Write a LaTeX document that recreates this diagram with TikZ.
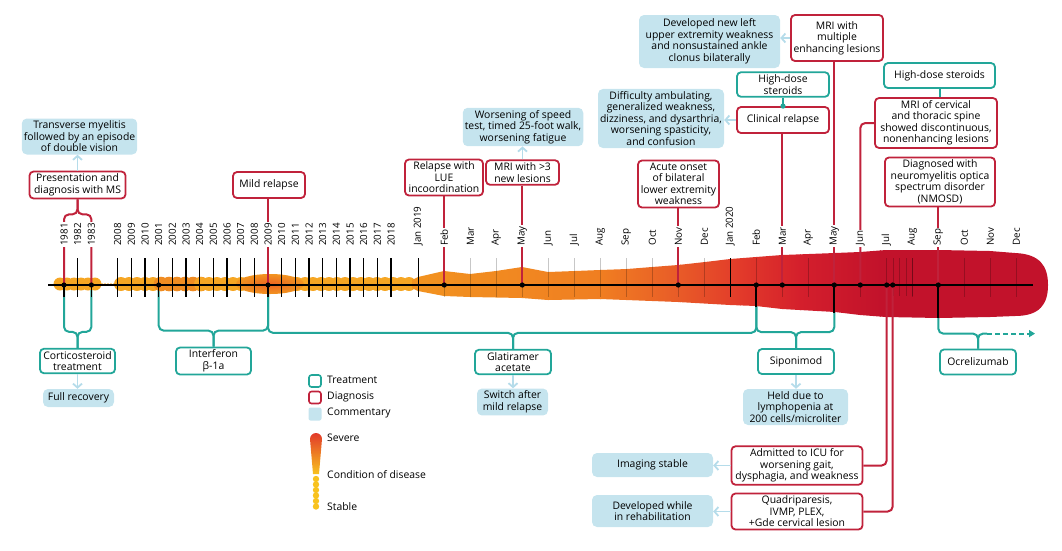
\documentclass[tikz,border=0pt]{standalone}
\usepackage{fontspec}
\setmainfont{Open Sans}
\usetikzlibrary{arrows.meta,calc}
\definecolor{dred}{HTML}{C0223B}
\definecolor{tealc}{HTML}{22A699}
\definecolor{cblue}{HTML}{C5E4EE}
\definecolor{arrblue}{HTML}{B5DCEA}
\definecolor{sevY}{HTML}{F6A623}
\definecolor{sevO}{HTML}{F08C22}
\definecolor{sevA}{HTML}{F29420}
\definecolor{sevB}{HTML}{F07E21}
\definecolor{sevC}{HTML}{E85A28}
\definecolor{sevD}{HTML}{E23A2A}
\definecolor{sevE}{HTML}{D41F2C}
\definecolor{sevF}{HTML}{C2122B}
\definecolor{sevL}{HTML}{F8C21E}
\definecolor{blobC}{HTML}{EC6422}
\tikzset{
  txt/.style={font=\fontsize{10.4}{11.5}\selectfont, align=center},
  diag/.style={txt, draw=dred, line width=1.8pt, rounded corners=4pt, fill=white, inner xsep=2pt, inner ysep=2.5pt},
  treat/.style={txt, draw=tealc, line width=1.8pt, rounded corners=4pt, fill=white, inner xsep=2pt, inner ysep=2.5pt},
  comm/.style={txt, fill=cblue, rounded corners=5pt, inner xsep=2pt, inner ysep=2.5pt},
  dline/.style={draw=dred, line width=2pt},
  tline/.style={draw=tealc, line width=2pt},
  carr/.style={draw=arrblue, line width=1.8pt, -{Straight Barb[length=4pt,width=9pt]}},
  lab/.style={font=\fontsize{9.8}{11}\selectfont, rotate=90, anchor=west, fill=white, inner sep=1.2pt},
  legtxt/.style={txt, anchor=west, inner sep=1pt},
  ytick/.style={draw=black, line width=1.3pt},
  mtick/.style={draw=black, opacity=0.22, line width=1pt},
}
\begin{document}
\begin{tikzpicture}[x=1pt,y=-1pt]
\useasboundingbox (0,0) rectangle (1062,550);

% ---------- coordinates on the axis ----------
\coordinate (Y1981) at (64,285);
\coordinate (Y1983) at (91.4,285);
\coordinate (Y2001) at (158.7,285);
\coordinate (Y2009) at (268,285);
\foreach \k in {0,...,23} \coordinate (M\k) at ({418.3+26*\k},285);
\coordinate (J1) at (886.7,285);
\coordinate (J2) at (892.7,285);
\coordinate (axL) at (48,285);
\coordinate (axR) at (1033,285);

% ---------- diagnosis boxes ----------
\node[diag, minimum width=96pt] (pres) at (77.5,185) {Presentation and\\diagnosis with MS};
\node[diag, minimum width=72pt, minimum height=26pt] (mild) at (269,185) {Mild relapse};
\node[diag, minimum width=78pt] (lue) at (444,177.5) {Relapse with\\LUE\\incoordination};
\node[diag, minimum width=73pt] (mri3) at (522.5,172.5) {MRI with >3\\new lesions};
\node[diag, minimum width=81pt] (acute) at (678.5,184) {Acute onset\\of bilateral\\lower extremity\\weakness};
\node[diag, minimum width=92pt, minimum height=26pt] (clin) at (783,120) {Clinical relapse};
\node[diag, minimum width=92pt, minimum height=46pt] (mri2) at (837,38) {MRI with\\multiple\\enhancing lesions};
\node[diag, minimum width=122pt] (cerv) at (936,123) {MRI of cervical\\and thoracic spine\\showed discontinuous,\\nonenhancing lesions};
\node[diag, minimum width=110pt] (nmosd) at (940,182) {Diagnosed with\\neuromyelitis optica\\spectrum disorder\\(NMOSD)};
\node[diag, minimum width=131pt] (icu) at (797,465.5) {Admitted to ICU for\\worsening gait,\\dysphagia, and weakness};
\node[diag, minimum width=131pt] (quad) at (797,511.5) {Quadriparesis,\\IVMP, PLEX,\\+Gde cervical lesion};

% ---------- treatment boxes ----------
\node[treat, minimum width=75pt] (cort) at (77.5,361) {Corticosteroid\\treatment};
\node[treat, minimum width=75pt] (ifn) at (213.5,361) {Interferon\\β-1a};
\node[treat, minimum width=76pt] (glat) at (513,362) {Glatiramer\\acetate};
\node[treat, minimum width=76pt, minimum height=25pt] (sipo) at (796,361.5) {Siponimod};
\node[treat, minimum width=76pt, minimum height=25pt] (ocre) at (978,362) {Ocrelizumab};
\node[treat, minimum width=92pt] (hds1) at (783,84.5) {High-dose\\steroids};
\node[treat, minimum width=111pt, minimum height=25pt] (hds2) at (939.5,75.5) {High-dose steroids};

% ---------- commentary boxes ----------
\node[comm, minimum width=115pt] (trans) at (79.5,136.5) {Transverse myelitis\\followed by an episode\\of double vision};
\node[comm, minimum width=71pt, minimum height=18pt] (full) at (78.5,398) {Full recovery};
\node[comm, minimum width=120pt] (worse) at (523,127) {Worsening of speed\\test, timed 25-foot walk,\\worsening fatigue};
\node[comm, minimum width=126pt] (diff) at (661,118.5) {Difficulty ambulating,\\generalized weakness,\\dizziness, and dysarthria,\\worsening spasticity,\\and confusion};
\node[comm, minimum width=141pt, minimum height=53pt] (devl) at (709.5,41.5) {Developed new left\\upper extremity weakness\\and nonsustained ankle\\clonus bilaterally};
\node[comm, minimum width=71pt] (switch) at (512.5,402) {Switch after\\mild relapse};
\node[comm, minimum width=105pt] (held) at (795.5,407) {Held due to\\lymphopenia at\\200 cells/microliter};
\node[comm, minimum width=121pt, minimum height=24pt] (imgs) at (652.5,465) {Imaging stable};
\node[comm, minimum width=121pt, minimum height=32pt] (devr) at (652.5,511) {Developed while\\in rehabilitation};

% ---------- commentary arrows ----------
\draw[carr] (pres.north) -- (trans.south -| pres.north);
\draw[carr] (cort.south) -- (full.north -| cort.south);
\draw[carr] (glat.south) -- (switch.north -| glat.south);
\draw[carr] (sipo.south) -- (held.north -| sipo.south);
\draw[carr] (mri3.north) -- (worse.south -| mri3.north);
\draw[carr] (clin.west) -- (diff.east |- clin.west);
\draw[carr] (mri2.west) -- (devl.east |- mri2.west);
\draw[carr] (icu.west) -- (imgs.east |- icu.west);
\draw[carr] (quad.west) -- (devr.east |- quad.west);

% ---------- teal connectors ----------
\draw[tline] (hds1.south) -- (clin.north);
\fill[tealc] (clin.north) circle (2.6);
\draw[tline] (hds2.south) -- (hds2.south |- cerv.north);

% brackets (below the axis)
\draw[tline, rounded corners=5pt] (Y1981) |- ($(cort.north)+(0,-16)$) -- (cort.north);
\draw[tline, rounded corners=5pt] (Y1983) |- ($(cort.north)+(0,-16)$) -- (cort.north);
\draw[tline, rounded corners=5pt] (Y2001) |- ($(ifn.north)+(0,-16)$) -- (ifn.north);
\draw[tline, rounded corners=5pt] (Y2009) |- ($(ifn.north)+(0,-16)$) -- (ifn.north);
\draw[tline, rounded corners=5pt] (Y2009) |- ($(glat.north)+(0,-16)$) -- (glat.north);
\draw[tline, rounded corners=5pt] (M13) |- ($(glat.north)+(0,-16)$) -- (glat.north);
\draw[tline, rounded corners=5pt] (M13) |- ($(sipo.north)+(0,-16)$) -- (sipo.north);
\draw[tline, rounded corners=5pt] (M16) |- ($(sipo.north)+(0,-16)$) -- (sipo.north);
\draw[tline, rounded corners=5pt] (M20) |- ($(ocre.north)+(0,-15)$) -- (ocre.north);
\draw[tline, rounded corners=5pt] (ocre.north) -- ($(ocre.north)+(0,-15)$) -- ($(ocre.north)+(9,-15)$);
\coordinate (ocreEnd) at ($(ocre.north)+(57,-15)$);
\draw[tline, dash pattern=on 5pt off 3pt, -{Triangle[length=6pt,width=7pt]}] ($(ocre.north)+(9,-15)$) -- (ocreEnd);

% ---------- condition-of-disease bar ----------
\foreach \x in {60,67,...,96} \fill[sevY] (\x,284) circle (6.5);
\foreach \x in {99,102,...,115} \fill[sevY] (\x,284.5) circle (1.3);
\foreach \x in {121,129,...,161} \fill[sevY] (\x,284) circle (7);
\foreach \x in {161,169,...,201} \fill[sevO] (\x,284) circle (7.3);
\foreach \x in {201,209,...,249} \fill[sevY] (\x,284) circle (7);
\foreach \x in {289,297,...,409} \fill[sevY] (\x,284) circle (7);
\shade[inner color=blobC, outer color=sevA] (270,284) ellipse (34 and 10);

\begin{scope}
\clip (412,280) -- (418,277) -- (444,271) -- (470,274) -- (496,271) -- (522,267) -- (548,272) -- (575,271) -- (600,270) -- (627,269) -- (652,267) -- (678,265) -- (705,262) -- (730,259) -- (756,257) -- (782,255) -- (809,254) -- (835,253) -- (860,252) -- (886,250) -- (939,250) -- (990,251) -- (1015,253)
  .. controls (1040,254) and (1048,266) .. (1048,285)
  .. controls (1048,304) and (1040,316) .. (1015,316)
  -- (990,317) -- (939,318) -- (886,317) -- (860,315) -- (835,312) -- (782,309) -- (756,306) -- (730,305) -- (678,302) -- (600,299) -- (548,300) -- (522,298) -- (470,297) -- (444,296) -- (418,291) -- (412,288) -- cycle;
\shade[left color=sevA, right color=sevB] (405,240) rectangle (601,330);
\shade[left color=sevB, right color=sevC] (600,240) rectangle (681,330);
\shade[left color=sevC, right color=sevD] (680,240) rectangle (741,330);
\shade[left color=sevD, right color=sevE] (740,240) rectangle (801,330);
\shade[left color=sevE, right color=sevF] (800,240) rectangle (881,330);
\fill[sevF] (880,240) rectangle (1060,330);
\end{scope}

% ---------- ticks and axis ----------
\foreach \x in {64,77.7,91.4,117.7,131.4,145.0,158.7,172.4,186.0,199.7,213.4,227.0,240.7,254.4,268.0,281.7,295.4,309.0,322.7,336.4,350.0,363.7,377.4,391.0}
  \draw[ytick] (\x,258) -- (\x,297);
\foreach \k in {1,...,11,13,14,...,23}
  \draw[mtick] ({418.3+26*\k},258) -- ({418.3+26*\k},297);
\foreach \x in {893,899.5,906,912.5}
  \draw[mtick] (\x,258) -- (\x,296);
\draw[ytick] (M0) ++(0,-27) -- ++(0,39);
\draw[ytick] (M12) ++(0,-27) -- ++(0,39);
\draw[line width=1.6pt] (axL) -- (axR);

% ---------- diagnosis connectors ----------
\draw[dline, rounded corners=5pt] (Y1981) |- ($(pres.south)+(0,15)$) -- (pres.south);
\draw[dline, rounded corners=5pt] (Y1983) |- ($(pres.south)+(0,15)$) -- (pres.south);
\draw[dline] (mild.south -| Y2009) -- (Y2009);
\draw[dline] (lue.south -| M1) -- (M1);
\draw[dline] (mri3.south -| M4) -- (M4);
\draw[dline] (acute.south -| M10) -- (M10);
\draw[dline] (clin.south -| M14) -- (M14);
\draw[dline] (mri2.south -| M16) -- (M16);
\draw[dline, rounded corners=5pt] (cerv.west) -| (M17);
\draw[dline] (nmosd.south -| M20) -- (M20);
\draw[dline, rounded corners=5pt] (J1) |- (icu.east);
\draw[dline, rounded corners=5pt] (J2) |- (quad.east);
\draw[line width=2pt] (M13) -- ++(0,22);
\draw[line width=2pt] (M16) -- ++(0,28);
\draw[line width=2pt] (M20) -- ++(0,33);

% ---------- event dots ----------
\foreach \p in {Y1981,Y1983,Y2001,Y2009,M1,M4,M10,M13,M14,M16,M17,J1,J2,M20}
  \fill (\p) circle (2.6);

% ---------- time labels ----------
\foreach \x/\t in {64/1981,77.7/1982,91.4/1983,117.7/2008,131.4/2009,145.0/2010,158.7/2001,172.4/2002,186.0/2003,199.7/2004,213.4/2005,227.0/2006,240.7/2007,254.4/2008,268.0/2009,281.7/2010,295.4/2011,309.0/2012,322.7/2013,336.4/2014,350.0/2015,363.7/2016,377.4/2017,391.0/2018}
  \node[lab] at (\x,247) {\t};
\foreach \k/\t in {0/Jan 2019,1/Feb,2/Mar,3/Apr,4/May,5/Jun,6/Jul,7/Aug,8/Sep,9/Oct,10/Nov,11/Dec,12/Jan 2020,13/Feb,14/Mar,15/Apr,16/May,17/Jun,18/Jul,19/Aug,20/Sep,21/Oct,22/Nov,23/Dec}
  \node[lab] at ({418.3+26*\k},247) {\t};

% ---------- legend ----------
\node[draw=tealc, line width=1.6pt, rounded corners=2.5pt, minimum size=12pt, inner sep=0pt] (lgT) at (315,381) {};
\node[draw=dred, line width=1.6pt, rounded corners=2.5pt, minimum size=12pt, inner sep=0pt] (lgD) at (315,397.5) {};
\node[fill=cblue, rounded corners=2pt, minimum size=13pt, inner sep=0pt] (lgC) at (315,414) {};
\node[legtxt] (lgTt) at (326,380) {Treatment};
\node[legtxt] (lgDt) at (326,396.5) {Diagnosis};
\node[legtxt] (lgCt) at (326,413) {Commentary};
\shade[top color=sevD, middle color=blobC, bottom color=sevL] (310,439) arc[start angle=180, end angle=360, radius=6] -- (319,474) -- (313,474) -- cycle;
\foreach \y in {479,484.5,490,495.5,501,506.5} \fill[sevL] (316,\y) circle (3.2);
\node[legtxt] (lgS) at (326,438) {Severe};
\node[legtxt] (lgM) at (326,475) {Condition of disease};
\node[legtxt] (lgSt) at (326,507) {Stable};
\end{tikzpicture}
\end{document}
